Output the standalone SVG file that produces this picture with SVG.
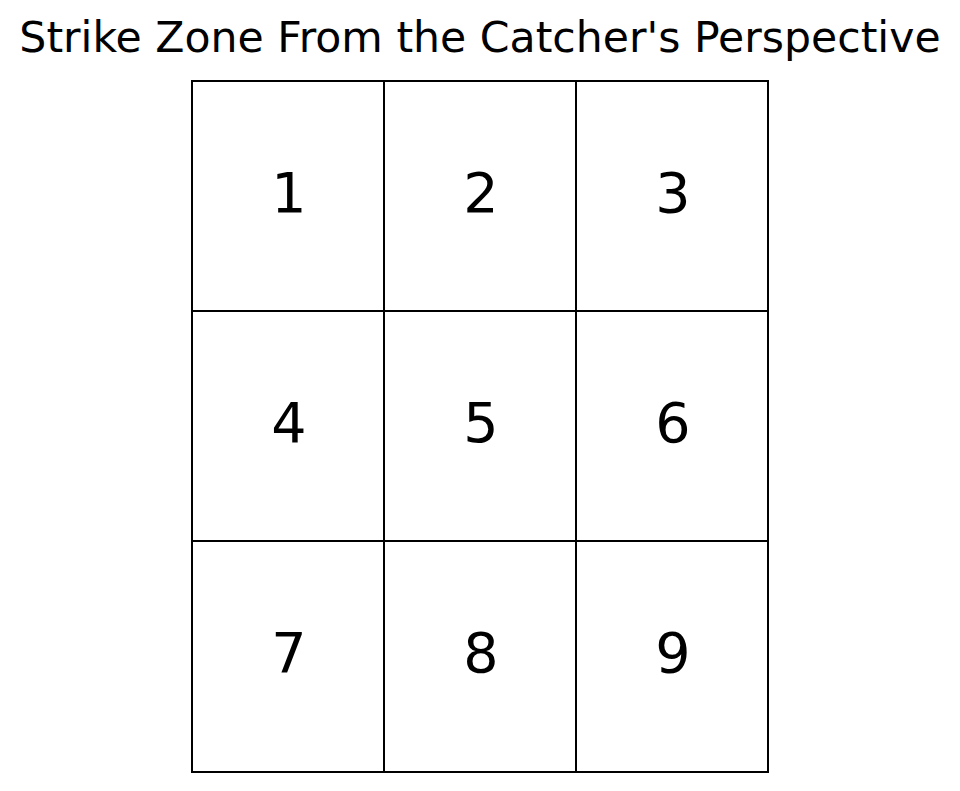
<svg xmlns="http://www.w3.org/2000/svg" width="960" height="791" viewBox="0 0 960 791">
<style>
.t{font-family:"DejaVu Sans",sans-serif;fill:#000;text-anchor:middle}
.title{font-size:42.6px}
.num{font-size:55.5px}
.cell{fill:none;stroke:#000;stroke-width:2}
</style>
<rect width="960" height="791" fill="#fff"/>
<text class="t title" x="480" y="52">Strike Zone From the Catcher's Perspective</text>
<g id="zone1"><rect class="cell" x="192" y="81" width="192" height="230"/><text class="t num" x="289" y="212">1</text></g>
<g id="zone2"><rect class="cell" x="384" y="81" width="192" height="230"/><text class="t num" x="481" y="212">2</text></g>
<g id="zone3"><rect class="cell" x="576" y="81" width="192" height="230"/><text class="t num" x="673" y="212">3</text></g>
<g id="zone4"><rect class="cell" x="192" y="311" width="192" height="230"/><text class="t num" x="289" y="442">4</text></g>
<g id="zone5"><rect class="cell" x="384" y="311" width="192" height="230"/><text class="t num" x="481" y="442">5</text></g>
<g id="zone6"><rect class="cell" x="576" y="311" width="192" height="230"/><text class="t num" x="673" y="442">6</text></g>
<g id="zone7"><rect class="cell" x="192" y="541" width="192" height="231"/><text class="t num" x="289" y="672">7</text></g>
<g id="zone8"><rect class="cell" x="384" y="541" width="192" height="231"/><text class="t num" x="481" y="672">8</text></g>
<g id="zone9"><rect class="cell" x="576" y="541" width="192" height="231"/><text class="t num" x="673" y="672">9</text></g>
<g id="connectors"></g>
</svg>
